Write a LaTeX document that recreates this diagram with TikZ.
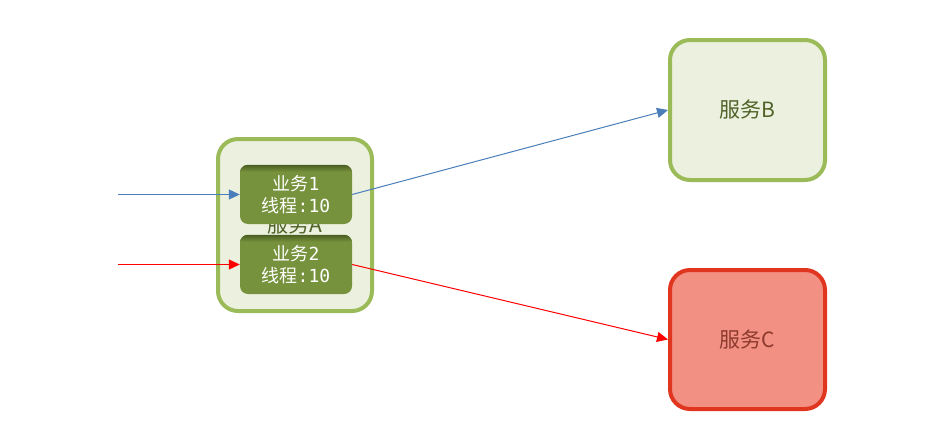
\documentclass[tikz,border=0pt]{standalone}
\usepackage{fontspec}
\newfontfamily\cjk{Noto Sans CJK SC}
\newfontfamily\monof{DejaVu Sans Mono}
\usetikzlibrary{arrows.meta}
\definecolor{svgreen}{HTML}{9BBB59}
\definecolor{svfill}{HTML}{EBF1DE}
\definecolor{svtext}{HTML}{4F6228}
\definecolor{bizfill}{HTML}{76923C}
\definecolor{bizdark}{HTML}{4A5E22}
\definecolor{cfill}{HTML}{F29084}
\definecolor{cborder}{HTML}{E0351F}
\definecolor{ctext}{HTML}{8E3A2E}
\definecolor{bluel}{HTML}{4A7EBB}
\tikzset{
  svbox/.style={draw=svgreen,fill=svfill,line width=4pt,rounded corners=20pt,
    text=svtext,font=\cjk\fontsize{21}{25}\selectfont,inner sep=0pt},
  bizbox/.style={fill=bizfill,rounded corners=8pt,minimum width=112pt,minimum height=59pt,
    inner sep=0pt,text=white,align=center,font=\cjk\fontsize{18}{22}\selectfont},
  bluearrow/.style={draw=bluel,line width=1pt,-{Triangle[length=11pt,width=10pt]}},
  redarrow/.style={draw=red,line width=1pt,-{Triangle[length=11pt,width=10pt]}}
}
\begin{document}
\begin{tikzpicture}[x=1pt,y=-1pt]
\useasboundingbox (0,0) rectangle (926,447);
\node[svbox,minimum width=154pt,minimum height=172pt] (A) at (295,225) {服务A};
\node[svbox,minimum width=155pt,minimum height=140pt] (B) at (747.5,110) {服务B};
\node[svbox,draw=cborder,fill=cfill,text=ctext,minimum width=155pt,minimum height=139pt] (C) at (747.5,339.5) {服务C};
\node[bizbox] (b1) at (296,194.5) {};
\node[bizbox] (b2) at (296,264.5) {};
\begin{scope}
\clip[rounded corners=8pt] (b1.south west) rectangle (b1.north east);
\shade[top color=bizdark,bottom color=bizfill] (b1.north west) rectangle ([yshift=-7pt]b1.north east);
\end{scope}
\begin{scope}
\clip[rounded corners=8pt] (b2.south west) rectangle (b2.north east);
\shade[top color=bizdark,bottom color=bizfill] (b2.north west) rectangle ([yshift=-7pt]b2.north east);
\end{scope}
\node[bizbox,fill=none] (t1) at (b1) {业务{\monof 1}\\线程{\monof :10}};
\node[bizbox,fill=none] (t2) at (b2) {业务{\monof 2}\\线程{\monof :10}};
\coordinate (in1) at (118,194.5);
\coordinate (in2) at (118,264.5);
\draw[bluearrow] (in1) -- (b1.west);
\draw[redarrow] (in2) -- (b2.west);
\draw[bluearrow] (b1.east) -- (B.west);
\draw[redarrow] (b2.east) -- (C.west);
\end{tikzpicture}
\end{document}
